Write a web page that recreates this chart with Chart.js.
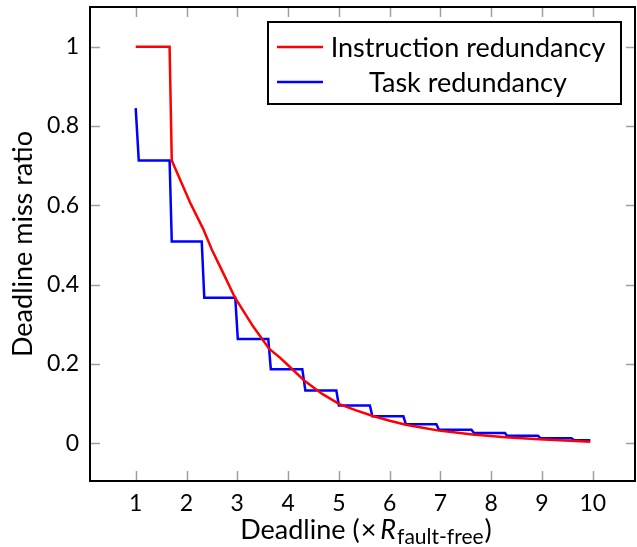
<!DOCTYPE html>
<html>
<head>
<meta charset="utf-8">
<script src="https://cdn.jsdelivr.net/npm/chart.js@4/dist/chart.umd.min.js"></script>
<style>
  html, body { margin: 0; padding: 0; background: #fff; }
  #wrap { width: 637px; height: 547px; position: relative; }
</style>
</head>
<body>
<div id="wrap"><canvas id="chart"></canvas></div>
<script>
const FONT = "Lato";

// Instruction redundancy (red curve)
const instrX = [1.00, 1.667, 1.71, 2.07, 2.33, 2.50, 2.69, 2.955, 3.31, 3.63, 3.84, 3.99, 4.33, 4.68, 5.01, 5.34, 5.67, 6.00, 6.32, 6.65, 6.97, 7.30, 7.63, 8.28, 8.94, 9.95];
const instrY = [1.000, 1.000, 0.713, 0.607, 0.540, 0.488, 0.438, 0.367, 0.295, 0.238, 0.216, 0.198, 0.157, 0.124, 0.099, 0.083, 0.069, 0.057, 0.047, 0.039, 0.032, 0.027, 0.022, 0.015, 0.010, 0.004];

// Task redundancy (blue staircase)
const taskX = [1.00, 1.06, 1.667, 1.71, 2.30, 2.35, 2.96, 3.01, 3.61, 3.66, 4.28, 4.34, 4.95, 5.00, 5.61, 5.66, 6.27, 6.32, 6.92, 6.97, 7.61, 7.66, 8.27, 8.31, 8.92, 8.97, 9.58, 9.63, 9.95];
const taskY = [0.845, 0.713, 0.713, 0.509, 0.509, 0.367, 0.367, 0.263, 0.263, 0.187, 0.187, 0.133, 0.133, 0.0955, 0.0955, 0.068, 0.068, 0.048, 0.048, 0.034, 0.034, 0.026, 0.026, 0.019, 0.019, 0.013, 0.013, 0.008, 0.008];

const xTicks = [1, 2, 3, 4, 5, 6, 7, 8, 9, 10];
const yTicks = [0, 0.2, 0.4, 0.6, 0.8, 1];
const seriesNames = ["Instruction redundancy", "Task redundancy"];
const seriesColors = ["#ff0000", "#0000ff"];

const toPoints = (xs, ys) => xs.map((x, i) => ({ x, y: ys[i] }));

// Chart.js reserves half a label of padding around the axes; the frame here is fixed.
const noScalePadding = (scale) => {
  scale.paddingTop = 0;
  scale.paddingBottom = 0;
  scale.paddingLeft = 0;
  scale.paddingRight = 0;
};

// Frame, inward ticks on all four sides, legend box and the x title with subscript.
const decorations = {
  id: "decorations",
  afterDraw(chart) {
    const { ctx, chartArea: a, scales } = chart;
    const tickLen = 10;
    ctx.save();

    ctx.strokeStyle = "#a0a0a0";
    ctx.lineWidth = 1.5;
    ctx.beginPath();
    xTicks.forEach((v) => {
      const px = Math.round(scales.x.getPixelForValue(v)) + 0.5;
      ctx.moveTo(px, a.bottom); ctx.lineTo(px, a.bottom - tickLen);
      ctx.moveTo(px, a.top); ctx.lineTo(px, a.top + tickLen);
    });
    yTicks.forEach((v) => {
      const py = Math.round(scales.y.getPixelForValue(v)) + 0.5;
      ctx.moveTo(a.left, py); ctx.lineTo(a.left + tickLen, py);
      ctx.moveTo(a.right, py); ctx.lineTo(a.right - tickLen, py);
    });
    ctx.stroke();

    ctx.strokeStyle = "#000";
    ctx.lineWidth = 2;
    ctx.strokeRect(a.left, a.top, a.right - a.left - 1, a.bottom - a.top);

    // legend
    const lx = 268, ly = 22, lw = 353, lh = 82;
    ctx.fillStyle = "#fff";
    ctx.fillRect(lx, ly, lw, lh);
    ctx.strokeRect(lx, ly, lw, lh);
    ctx.font = `27px ${FONT}`;
    ctx.textAlign = "center";
    ctx.textBaseline = "middle";
    seriesNames.forEach((name, i) => {
      const rowY = ly + 25 + i * 35;
      ctx.strokeStyle = seriesColors[i];
      ctx.lineWidth = 2.5;
      ctx.beginPath();
      ctx.moveTo(277, rowY); ctx.lineTo(323, rowY);
      ctx.stroke();
      ctx.fillStyle = "#000";
      ctx.fillText(name, 468, rowY + 1);
    });

    // x axis title: Deadline (×R_fault-free)
    const parts = [
      { t: "Deadline (", f: `27px ${FONT}`, dy: 0, gap: 1 },
      { t: "\u00d7", f: `27px ${FONT}`, dy: 0, gap: 4 },
      { t: "R", f: `italic 27px ${FONT}`, dy: 0, gap: 1 },
      { t: "fault-free", f: `21px ${FONT}`, dy: 5, gap: 1 },
      { t: ")", f: `27px ${FONT}`, dy: 0, gap: 0 }
    ];
    ctx.textAlign = "left";
    ctx.textBaseline = "alphabetic";
    const widths = parts.map((p) => { ctx.font = p.f; return ctx.measureText(p.t).width + p.gap; });
    let x = 366 - widths.reduce((s, w) => s + w, 0) / 2;
    parts.forEach((p, i) => {
      ctx.font = p.f;
      ctx.fillText(p.t, x, 539 + p.dy);
      x += widths[i];
    });
    ctx.restore();
  }
};

new Chart(document.getElementById("chart"), {
  type: "scatter",
  data: {
    datasets: [
      {
        label: seriesNames[0],
        data: toPoints(instrX, instrY),
        showLine: true,
        borderColor: seriesColors[0],
        borderWidth: 2.5,
        pointRadius: 0,
        tension: 0
      },
      {
        label: seriesNames[1],
        data: toPoints(taskX, taskY),
        showLine: true,
        borderColor: seriesColors[1],
        borderWidth: 2.5,
        pointRadius: 0,
        tension: 0
      }
    ]
  },
  options: {
    responsive: true,
    maintainAspectRatio: false,
    animation: false,
    layout: { autoPadding: false, padding: { top: 7, right: 1, left: 0, bottom: 0 } },
    plugins: { legend: { display: false }, tooltip: { enabled: false } },
    scales: {
      x: {
        type: "linear",
        min: 0.1,
        max: 10.85,
        afterBuildTicks: (scale) => { scale.ticks = xTicks.map((value) => ({ value })); },
        afterFit: (scale) => { scale.height = 66; noScalePadding(scale); },
        grid: { display: false, drawTicks: false },
        border: { display: false },
        ticks: { color: "#000", padding: 9, font: { family: FONT, size: 23 }, maxRotation: 0 }
      },
      y: {
        min: -0.095,
        max: 1.1,
        afterBuildTicks: (scale) => { scale.ticks = yTicks.map((value) => ({ value })); },
        afterFit: (scale) => { scale.width = 90; noScalePadding(scale); },
        grid: { display: false, drawTicks: false },
        border: { display: false },
        ticks: { color: "#000", padding: 11, font: { family: FONT, size: 23 }, callback: (v) => String(v) },
        title: {
          display: true,
          text: "Deadline miss ratio",
          color: "#000",
          font: { family: FONT, size: 27 },
          padding: { top: 7, bottom: 0 }
        }
      }
    }
  },
  plugins: [decorations]
});
</script>
</body>
</html>
